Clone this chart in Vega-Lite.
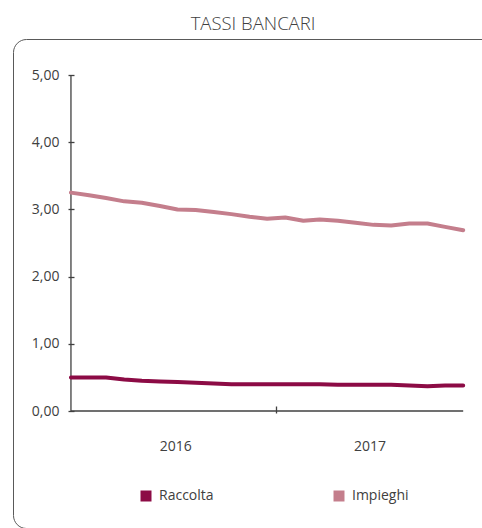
{
  "$schema": "https://vega.github.io/schema/vega-lite/v6.json",
  "width": 490,
  "height": 489,
  "autosize": {"type": "none"},
  "padding": {"left": 13, "top": 39, "right": 0, "bottom": 0},
  "title": {"text": "TASSI BANCARI", "fontSize": 18.5, "font": "Open Sans", "fontWeight": 300, "color": "#404040", "anchor": "middle", "dx": -5, "offset": 6},
  "config": {
    "font": "Open Sans",
    "view": {"stroke": "#595959", "strokeWidth": 1, "cornerRadius": 13, "strokeDash": [464, 967.8, 520.4]}
  },
  "data": {"values": [
    {"mese": "2016-01-01", "Raccolta": 0.50, "Impieghi": 3.25},
    {"mese": "2016-02-01", "Raccolta": 0.50, "Impieghi": 3.21},
    {"mese": "2016-03-01", "Raccolta": 0.50, "Impieghi": 3.17},
    {"mese": "2016-04-01", "Raccolta": 0.47, "Impieghi": 3.12},
    {"mese": "2016-05-01", "Raccolta": 0.45, "Impieghi": 3.10},
    {"mese": "2016-06-01", "Raccolta": 0.44, "Impieghi": 3.05},
    {"mese": "2016-07-01", "Raccolta": 0.43, "Impieghi": 3.00},
    {"mese": "2016-08-01", "Raccolta": 0.42, "Impieghi": 2.99},
    {"mese": "2016-09-01", "Raccolta": 0.41, "Impieghi": 2.96},
    {"mese": "2016-10-01", "Raccolta": 0.40, "Impieghi": 2.93},
    {"mese": "2016-11-01", "Raccolta": 0.40, "Impieghi": 2.89},
    {"mese": "2016-12-01", "Raccolta": 0.40, "Impieghi": 2.86},
    {"mese": "2017-01-01", "Raccolta": 0.40, "Impieghi": 2.88},
    {"mese": "2017-02-01", "Raccolta": 0.40, "Impieghi": 2.83},
    {"mese": "2017-03-01", "Raccolta": 0.40, "Impieghi": 2.85},
    {"mese": "2017-04-01", "Raccolta": 0.39, "Impieghi": 2.83},
    {"mese": "2017-05-01", "Raccolta": 0.39, "Impieghi": 2.80},
    {"mese": "2017-06-01", "Raccolta": 0.39, "Impieghi": 2.77},
    {"mese": "2017-07-01", "Raccolta": 0.39, "Impieghi": 2.76},
    {"mese": "2017-08-01", "Raccolta": 0.38, "Impieghi": 2.79},
    {"mese": "2017-09-01", "Raccolta": 0.37, "Impieghi": 2.79},
    {"mese": "2017-10-01", "Raccolta": 0.38, "Impieghi": 2.74},
    {"mese": "2017-11-01", "Raccolta": 0.38, "Impieghi": 2.69}
  ]},
  "layer": [
    {
      "data": {"values": [{}]},
      "mark": {"type": "rule", "color": "#404040", "strokeWidth": 1.3},
      "encoding": {
        "x": {"datum": {"year": 2016, "month": 1, "date": 1, "utc": true}, "type": "temporal"},
        "y": {"datum": 0, "type": "quantitative"},
        "y2": {"datum": 5}
      }
    },
    {
      "data": {"values": [{}]},
      "mark": {"type": "rule", "color": "#404040", "strokeWidth": 1.3},
      "encoding": {
        "x": {"datum": {"year": 2016, "month": 1, "date": 1, "utc": true}, "type": "temporal"},
        "x2": {"datum": {"year": 2017, "month": 11, "date": 1, "utc": true}},
        "y": {"datum": 0, "type": "quantitative"}
      }
    },
    {
      "transform": [{"fold": ["Raccolta", "Impieghi"], "as": ["serie", "valore"]}],
      "mark": {"type": "line", "strokeWidth": 4, "strokeJoin": "round", "strokeCap": "round"},
      "encoding": {
        "x": {
          "field": "mese", "type": "temporal",
          "scale": {"type": "utc", "nice": false, "domain": [{"year": 2015, "month": 9, "date": 24, "utc": true}, {"year": 2018, "month": 1, "date": 8, "utc": true}]},
          "axis": {
            "title": null, "orient": "bottom", "offset": -122, "domain": false, "grid": false,
            "values": [{"year": 2016, "month": 6, "date": 27, "utc": true}, {"year": 2016, "month": 12, "date": 16, "hours": 12, "utc": true}, {"year": 2017, "month": 5, "date": 25, "utc": true}],
            "labelExpr": "utcmonth(datum.value) == 11 ? '' : utcFormat(datum.value, '%Y')",
            "tickSize": 7, "tickColor": "#404040", "tickWidth": 1.3,
            "tickOpacity": {"condition": {"test": "utcmonth(datum.value) == 11", "value": 1}, "value": 0},
            "labelPadding": 26, "labelFontSize": 14, "labelColor": "#404040", "labelFont": "Open Sans", "labelFlush": false, "labelOverlap": false
          }
        },
        "y": {
          "field": "valore", "type": "quantitative",
          "scale": {"domain": [-1.741, 5.536], "nice": false, "zero": false},
          "axis": {
            "title": null, "orient": "left", "offset": -61, "domain": false, "grid": false,
            "values": [0, 1, 2, 3, 4, 5],
            "labelExpr": "replace(format(datum.value, '.2f'), '.', ',')",
            "tickSize": 6, "tickColor": "#404040", "tickWidth": 1.3,
            "labelPadding": 9, "labelFontSize": 14, "labelColor": "#404040", "labelFont": "Open Sans"
          }
        },
        "color": {
          "field": "serie", "type": "nominal", "sort": ["Raccolta", "Impieghi"],
          "scale": {"domain": ["Raccolta", "Impieghi"], "range": ["#8C0B45", "#C47E8C"]},
          "legend": {
            "title": null, "orient": "none", "legendX": 126, "legendY": 450, "direction": "horizontal",
            "symbolType": "square", "symbolSize": 121, "labelFontSize": 14, "labelColor": "#404040", "labelFont": "Open Sans",
            "labelOffset": 6, "columnPadding": 118, "padding": 0,
            "encode": {"symbols": {"update": {"fill": {"scale": "color", "field": "value"}, "strokeWidth": {"value": 0}}}}
          }
        }
      }
    }
  ]
}
